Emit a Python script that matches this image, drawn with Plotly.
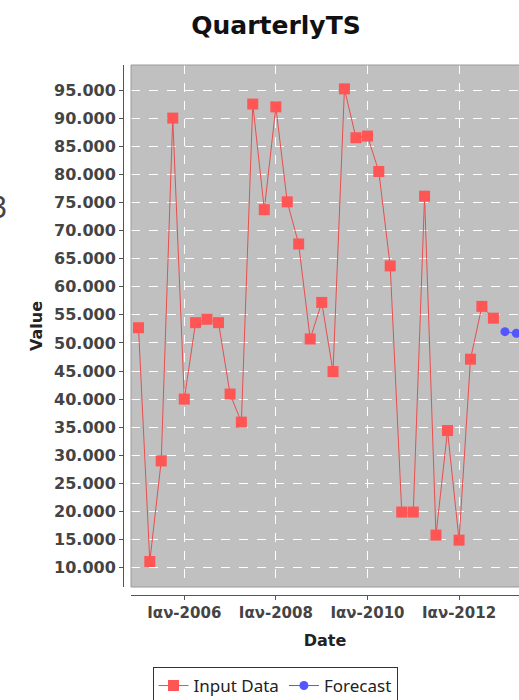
import pandas as pd
import plotly.graph_objects as go

# ---- data ----
input_dates = list(pd.date_range("2005-01-01", periods=32, freq="QS").strftime("%Y-%m-%d"))
input_values = [52700, 11100, 29000, 90000, 40000, 53600, 54200, 53600,
                40900, 35900, 92500, 73700, 92000, 75100, 67600, 50700,
                57200, 44900, 95200, 86500, 86800, 80500, 63700, 19900,
                19900, 76100, 15800, 34400, 14900, 47100, 56500, 54400]
forecast_dates = ["2013-01-01", "2013-04-01"]
forecast_values = [52000, 51700]

x_tick_vals = ["2006-01-01", "2008-01-01", "2010-01-01", "2012-01-01"]
x_tick_text = ["Ιαν-2006", "Ιαν-2008", "Ιαν-2010", "Ιαν-2012"]

# ---- layout geometry (window pixels; page margin removed below) ----
W, H = 519, 700
ML = 123                # y-axis line position
MT = 65                 # top of plot area
XAXIS_Y = 595           # x-axis line position
MR, MB = 0, H - XAXIS_Y
PW, PH = W - ML - MR, H - MT - MB

def px(xw):  # window pixel x -> paper
    return (xw - ML) / PW

def py(yw):  # window pixel y -> paper
    return (H - MB - yw) / PH

FONT = "DejaVu Sans"

fig = go.Figure()
fig.add_trace(go.Scatter(
    x=input_dates, y=input_values, name="Input Data", mode="lines+markers",
    line=dict(color="#e84e4e", width=1),
    marker=dict(symbol="square", size=11, color="#ff5555"),
))
fig.add_trace(go.Scatter(
    x=forecast_dates, y=forecast_values, name="Forecast", mode="lines+markers",
    line=dict(color="#5555ff", width=1),
    marker=dict(symbol="circle", size=9, color="#5555ff"),
))

fig.update_layout(
    width=W, height=H,
    margin=dict(l=ML, r=MR, t=MT, b=MB, autoexpand=False),
    paper_bgcolor="white", plot_bgcolor="#c0c0c0",
    separators=",.",
    hovermode=False,
    title=dict(text="QuarterlyTS", x=px(276), xref="paper", xanchor="center",
               y=1 - 25 / H, yref="container", yanchor="middle",
               font=dict(family=FONT, size=25, color="#111111", weight="bold")),
    xaxis=dict(
        type="date", domain=[px(131), 1], anchor="free", position=0,
        range=["2004-11-02", "2013-04-23"],
        tickmode="array", tickvals=x_tick_vals, ticktext=x_tick_text,
        showline=True, linecolor="#555555", linewidth=1,
        ticks="outside", ticklen=4, tickcolor="#555555",
        showgrid=True, gridcolor="white", griddash="dash", gridwidth=1,
        zeroline=False, automargin=False,
        tickfont=dict(family=FONT, size=15, color="#444444", weight="bold"),
        title=dict(text="Date", standoff=13,
                   font=dict(family=FONT, size=16, color="#222222", weight="bold")),
    ),
    yaxis=dict(
        domain=[py(587), 1], anchor="free", position=0,
        range=[6566, 99448], tick0=0, dtick=5000, tickformat=",d",
        showline=True, linecolor="#555555", linewidth=1,
        ticks="outside", ticklen=4, tickcolor="#555555",
        showgrid=True, gridcolor="white", griddash="dash", gridwidth=1,
        zeroline=False, automargin=False,
        tickfont=dict(family=FONT, size=16, color="#444444", weight="bold"),
        title=dict(text="Value", standoff=6,
                   font=dict(family=FONT, size=16, color="#222222", weight="bold")),
    ),
    legend=dict(
        orientation="h", x=px(275), xanchor="center", y=py(667), yanchor="top",
        bordercolor="#333333", borderwidth=1, bgcolor="white",
        font=dict(family="Noto Sans", size=17, color="#222222"),
        itemwidth=30,
    ),
    showlegend=True,
)

# plot outline
fig.add_shape(type="rect", xref="paper", yref="paper",
              x0=px(131), x1=1.01, y0=py(587), y1=1,
              line=dict(color="#9a9a9a", width=1), layer="above")

# partial glyph at the left edge of the reference picture
fig.add_annotation(text="3", xref="paper", yref="paper", x=px(9), y=py(206),
                   xanchor="right", yanchor="middle", showarrow=False,
                   font=dict(family="Noto Sans", size=30, color="#444444"))

fig.write_html(
    "out.html",
    config={"displayModeBar": False, "staticPlot": True},
    post_script="document.body.style.margin='0';"
                "document.documentElement.style.overflow='hidden';",
)
